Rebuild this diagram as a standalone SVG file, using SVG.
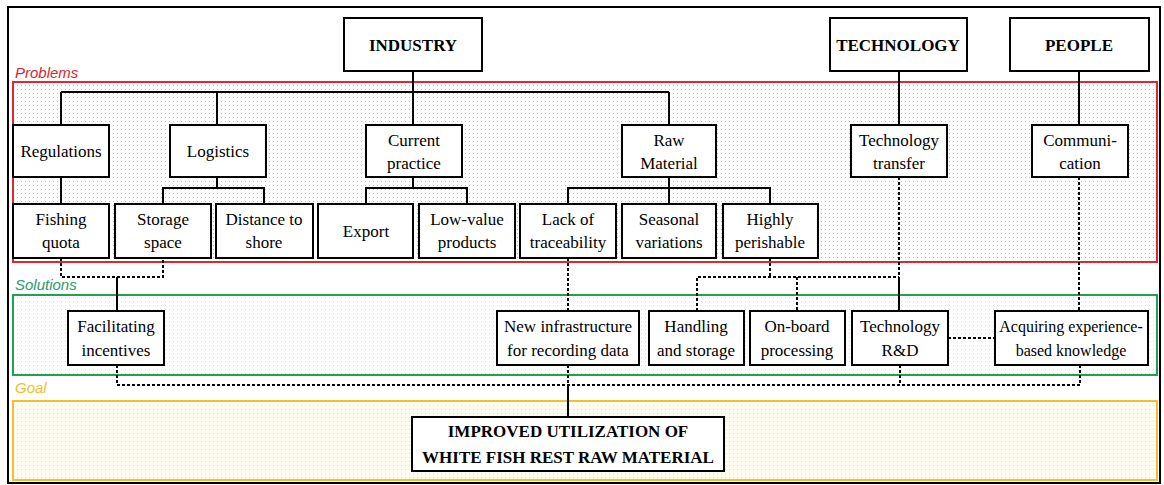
<svg xmlns="http://www.w3.org/2000/svg" width="1164" height="485" viewBox="0 0 1164 485">
<style>
.box{fill:#fff;stroke:#000;stroke-width:2}
.t{font-family:"Liberation Serif","Times New Roman",serif;font-size:17px;fill:#000;text-anchor:middle}
.b{font-family:"Liberation Serif","Times New Roman",serif;font-size:17px;font-weight:bold;fill:#000;text-anchor:middle}
.lbl{font-family:"Liberation Sans",Arial,sans-serif;font-size:15px;font-style:italic}
.solid{fill:none;stroke:#000;stroke-width:2}
.dash{fill:none;stroke:#000;stroke-width:2;stroke-dasharray:3 2}
</style>
<defs>
<pattern id="dotsR" width="4" height="4" patternUnits="userSpaceOnUse"><rect width="4" height="4" fill="#fff"/><rect x="1" y="1" width="1" height="1" fill="#c2c2c2"/></pattern>
<pattern id="dotsG" width="4" height="4" patternUnits="userSpaceOnUse"><rect width="4" height="4" fill="#fff"/><rect x="1" y="1" width="1" height="1" fill="#dedede"/></pattern>
<pattern id="dotsY" width="4" height="4" patternUnits="userSpaceOnUse"><rect width="4" height="4" fill="#fffdf2"/><rect x="1" y="1" width="1" height="1" fill="#e4e1d4"/></pattern>
</defs>
<rect x="0" y="0" width="1164" height="485" fill="#fff"/>
<rect x="8" y="7" width="1152" height="476" fill="none" stroke="#000" stroke-width="2"/>

<g id="zones">
<rect x="13" y="82" width="1144" height="180" fill="url(#dotsR)" stroke="#e0262e" stroke-width="2"/>
<rect x="13" y="295" width="1144" height="80" fill="url(#dotsG)" stroke="#20a050" stroke-width="2"/>
<rect x="13" y="401" width="1144" height="79" fill="url(#dotsY)" stroke="#f2c02e" stroke-width="2"/>
<text class="lbl" x="15" y="78" fill="#d8262e">Problems</text>
<text class="lbl" x="15" y="290" fill="#2a9a70">Solutions</text>
<text class="lbl" x="15" y="393" fill="#f2c02e">Goal</text>
</g>

<g id="connectors">
<path class="solid" d="M413,71V92M61,92H669M61,92V125M217,92V125M413,92V125M669,92V125M899,71V125M1079,71V125"/>
<path class="solid" d="M61,177V204M217,177V188M163,204V188H264V204M413,177V188M366,204V188H467V204M669,177V204M568,204V188H770V204"/>
<path class="solid" d="M117,277V311M899,277V311M568,385V417"/>
<path class="dash" d="M61,258V277H163V258M568,258V311M770,258V277M697,311V277H899M797,277V311M899,177V277M1079,177V311M948,338H995M117,365V385H1080V365M568,365V385M900,365V385"/>
</g>

<g id="industry"><rect class="box" x="344" y="18" width="138" height="53"/><text class="b" x="413" y="51">INDUSTRY</text></g>
<g id="technology"><rect class="box" x="830" y="18" width="137" height="53"/><text class="b" x="898" y="51">TECHNOLOGY</text></g>
<g id="people"><rect class="box" x="1010" y="18" width="139" height="53"/><text class="b" x="1079" y="51">PEOPLE</text></g>

<g id="regulations"><rect class="box" x="13" y="125" width="96" height="52"/><text class="t" x="61" y="157">Regulations</text></g>
<g id="logistics"><rect class="box" x="170" y="125" width="96" height="52"/><text class="t" x="218" y="157">Logistics</text></g>
<g id="current-practice"><rect class="box" x="366" y="125" width="96" height="52"/><text class="t" x="414" y="146">Current</text><text class="t" x="414" y="169">practice</text></g>
<g id="raw-material"><rect class="box" x="622" y="125" width="94" height="52"/><text class="t" x="669" y="146">Raw</text><text class="t" x="669" y="169">Material</text></g>
<g id="technology-transfer"><rect class="box" x="851" y="125" width="96" height="52"/><text class="t" x="899" y="146">Technology</text><text class="t" x="899" y="169">transfer</text></g>
<g id="communication"><rect class="box" x="1032" y="125" width="96" height="52"/><text class="t" x="1080" y="146">Communi-</text><text class="t" x="1080" y="169">cation</text></g>

<g id="fishing-quota"><rect class="box" x="13" y="204" width="96" height="54"/><text class="t" x="61" y="225">Fishing</text><text class="t" x="61" y="248">quota</text></g>
<g id="storage-space"><rect class="box" x="115" y="204" width="96" height="54"/><text class="t" x="163" y="225">Storage</text><text class="t" x="163" y="248">space</text></g>
<g id="distance-to-shore"><rect class="box" x="216" y="204" width="97" height="54"/><text class="t" x="264" y="225">Distance to</text><text class="t" x="264" y="248">shore</text></g>
<g id="export"><rect class="box" x="318" y="204" width="95" height="54"/><text class="t" x="366" y="237">Export</text></g>
<g id="low-value-products"><rect class="box" x="419" y="204" width="96" height="54"/><text class="t" x="467" y="225">Low-value</text><text class="t" x="467" y="248">products</text></g>
<g id="lack-of-traceability"><rect class="box" x="520" y="204" width="96" height="54"/><text class="t" x="568" y="225">Lack of</text><text class="t" x="568" y="248">traceability</text></g>
<g id="seasonal-variations"><rect class="box" x="622" y="204" width="94" height="54"/><text class="t" x="669" y="225">Seasonal</text><text class="t" x="669" y="248">variations</text></g>
<g id="highly-perishable"><rect class="box" x="723" y="204" width="95" height="54"/><text class="t" x="770" y="225">Highly</text><text class="t" x="770" y="248">perishable</text></g>

<g id="facilitating-incentives"><rect class="box" x="68" y="311" width="96" height="54"/><text class="t" x="116" y="332">Facilitating</text><text class="t" x="116" y="356">incentives</text></g>
<g id="new-infrastructure"><rect class="box" x="497" y="311" width="142" height="54"/><text class="t" x="568" y="332">New infrastructure</text><text class="t" x="568" y="356">for recording data</text></g>
<g id="handling-and-storage"><rect class="box" x="649" y="311" width="95" height="54"/><text class="t" x="696" y="332">Handling</text><text class="t" x="696" y="356">and storage</text></g>
<g id="on-board-processing"><rect class="box" x="750" y="311" width="95" height="54"/><text class="t" x="797" y="332">On-board</text><text class="t" x="797" y="356">processing</text></g>
<g id="technology-rd"><rect class="box" x="852" y="311" width="96" height="54"/><text class="t" x="900" y="332">Technology</text><text class="t" x="900" y="356">R&amp;D</text></g>
<g id="acquiring-knowledge"><rect class="box" x="995" y="311" width="153" height="54"/><text class="t" x="1071" y="332" style="font-size:16px">Acquiring experience-</text><text class="t" x="1071" y="356" style="font-size:16px">based knowledge</text></g>

<g id="goal-node"><rect class="box" x="412" y="417" width="312" height="54"/><text class="b" x="568" y="437">IMPROVED UTILIZATION OF</text><text class="b" x="568" y="463">WHITE FISH REST RAW MATERIAL</text></g>
</svg>
